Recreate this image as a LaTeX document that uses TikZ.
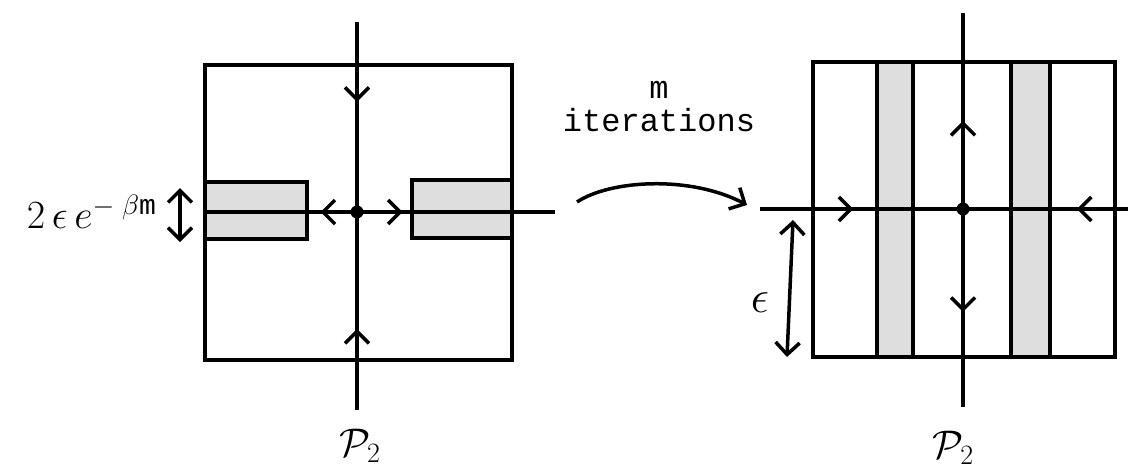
\RequirePackage{fix-cm}
\documentclass[tikz,border=0pt]{standalone}
\usepackage{fontspec}
\setmonofont{Liberation Mono}
\usepackage{amsmath}
\usetikzlibrary{arrows.meta,decorations.markings}
\definecolor{stipple}{RGB}{222,222,222}

\tikzset{
  barb/.tip={Straight Barb[length=12pt,width=24pt]},
  flow/.style={postaction={decorate},
    decoration={markings,mark=at position #1 with {\arrow{barb}}}},
  box/.style={draw,line width=3.2pt,inner sep=0pt},
  band/.style={box,fill=stipple},
  axis/.style={line width=3.5pt},
  hand/.style={font=\fontsize{40}{44}\selectfont}
}

\begin{document}
\begin{tikzpicture}[x=1pt,y=-1pt]
\useasboundingbox (0,0) rectangle (1131,471);

\node[box,minimum width=307pt,minimum height=295pt] (leftsq) at (358.5,212.5) {};
\node[band,minimum width=102pt,minimum height=57pt] (leftband) at (256,210.5) {};
\node[band,minimum width=100pt,minimum height=58pt] (rightband) at (462,209) {};

\coordinate (lc) at (357,212);
\coordinate (ltop) at (357,22);
\coordinate (lbot) at (357,410);
\coordinate (lleft) at (205,212);
\coordinate (lright) at (555,212);
\draw[axis,flow=0.42] (ltop) -- (lc);
\draw[axis,flow=0.41] (lbot) -- (lc);
\draw[axis,flow=0.24] (lc) -- (lleft);
\draw[axis,flow=0.23] (lc) -- (lright);
\fill (lc) circle (6.5pt);

\node[hand,anchor=east] (gap) at (160,212) {$2\,\epsilon\,e^{-\;\beta\mathtt{m}}$};
\coordinate (gaptop) at (180,188);
\coordinate (gapbot) at (180,242);
\draw[axis,barb-barb] (gaptop) -- (gapbot);
\node[hand] (leftname) at (360,446) {$\mathcal{P}_2$};

\node[font=\ttfamily\fontsize{32}{33}\selectfont,align=center] (iter) at (659,107) {m\\iterations};
\coordinate (mapfrom) at (577,202);
\coordinate (mapto) at (747,205);
\draw[axis,-barb] (mapfrom) .. controls (610,180) and (690,175) .. (mapto);

\node[box,minimum width=302pt,minimum height=295pt] (rightsq) at (964,209.5) {};
\node[band,minimum width=36pt,minimum height=295pt] (leftstrip) at (895,209.5) {};
\node[band,minimum width=39pt,minimum height=295pt] (rightstrip) at (1030.5,209.5) {};

\coordinate (rc) at (963,209);
\coordinate (rtop) at (963,13);
\coordinate (rbot) at (963,407);
\coordinate (rleft) at (760,209);
\coordinate (rright) at (1128,209);
\draw[axis,flow=0.45] (rc) -- (rtop);
\draw[axis,flow=0.52] (rc) -- (rbot);
\draw[axis,flow=0.46] (rleft) -- (rc);
\draw[axis,flow=0.31] (rright) -- (rc);
\fill (rc) circle (6.5pt);

\coordinate (epstop) at (793,220);
\coordinate (epsbot) at (787,357);
\draw[axis,barb-barb] (epstop) -- (epsbot);
\node[hand,font=\fontsize{46}{50}\selectfont] (epslabel) at (760,303) {$\epsilon$};
\node[hand] (rightname) at (953,448) {$\mathcal{P}_2$};
\end{tikzpicture}
\end{document}
